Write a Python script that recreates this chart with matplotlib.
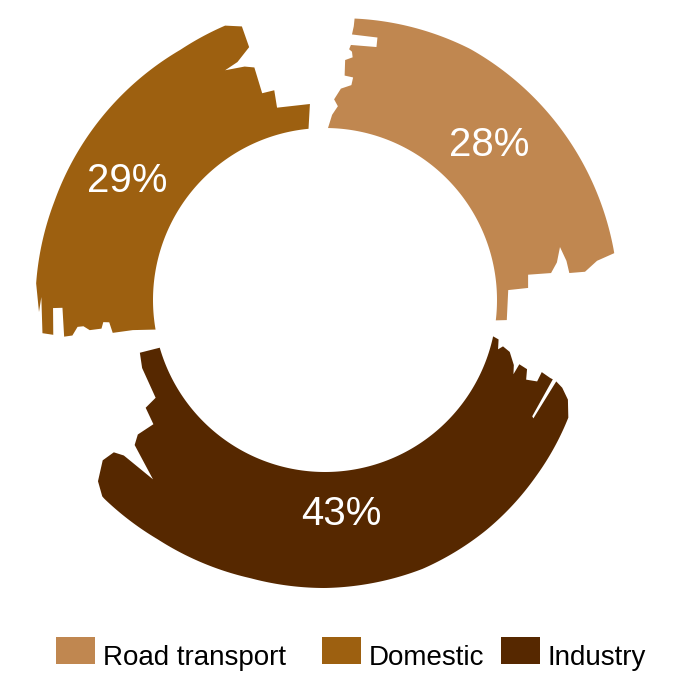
import numpy as np
import matplotlib
matplotlib.use("Agg")
import matplotlib.pyplot as plt
from matplotlib.patches import Polygon, Rectangle

# ---- data -------------------------------------------------------------
categories = ["Road transport", "Domestic", "Industry"]
shares = [28, 29, 43]
colors = ["#C08750", "#9D6010", "#562800"]
ring_order = ["Road transport", "Industry", "Domestic"]  # clockwise from the top
start_angle = 92.0

# ---- layout (pixel space) ---------------------------------------------
W, H = 685, 673
CX, CY = 325, 300
R_IN = 172
# hand-drawn outer rim: radius at a few angles (degrees, clockwise run from the top)
rim_angles = [-268, -260, -250, -240, -200, -175, -150, -138, -125, -105, -90, -70, -55,
              -40, -25, -12, -8, 10, 60, 84, 92]
rim_radii = [302, 300, 292, 289, 288, 290, 296, 297, 292, 288, 288, 286, 281,
             275, 270, 272, 293, 293, 290, 283, 283]

# label placement per segment: (angle nudge in degrees, radius)
label_place = {"Road transport": (1.8, 226), "Industry": (0.5, 215), "Domestic": (4.8, 231)}

# Brush-stroke ends: (radial fraction inner->outer, degrees the edge pulls back
# from the segment boundary)
brush = {
    ("Road transport", "start"): [(0, 3), (0.12, 4.2), (0.2, 5.8), (0.26, 4.6), (0.36, 6.3),
                                  (0.40, 9.0), (0.47, 9.2), (0.48, 7.0), (0.62, 6.8), (0.65, 8.5),
                                  (0.70, 8.2), (0.72, 7.5), (0.76, 7.8), (0.765, 13.5), (0.85, 13.3),
                                  (0.855, 7.8), (0.93, 8.0), (1.0, 8.0)],
    ("Road transport", "end"): [(0, 2.0), (0.09, 2.5), (0.095, 11.9), (0.26, 12.2), (0.27, 15.9),
                                (0.46, 15.6), (0.52, 18), (0.57, 21.5), (0.6, 18), (0.61, 15.1),
                                (0.74, 15.0), (0.85, 17), (1.0, 18)],
    ("Industry", "start"): [(0, 3.4), (0.06, 4), (0.08, 7.1), (0.12, 5.8), (0.2, 6.9), (0.28, 10.2),
                            (0.31, 12.7), (0.33, 9.5), (0.42, 10.1), (0.45, 12.8), (0.56, 12.2),
                            (0.57, 9.6), (0.67, 10.3), (0.70, 10.4), (0.66, 20.5), (0.68, 20.8),
                            (0.74, 10.6), (0.82, 11.5), (0.92, 13.5), (1.0, 17)],
    ("Industry", "end"): [(0, -0.3), (0.17, -0.5), (0.19, 4), (0.19, 13.6), (0.3, 14.6),
                          (0.32, 19.5), (0.47, 19.3), (0.54, 20.9), (0.62, 29.8), (0.66, 21.3),
                          (0.71, 19.4), (0.82, 19.4), (0.95, 22.2), (1.0, 25)],
    ("Domestic", "start"): [(0, 6.5), (0.19, 7.5), (0.36, 7.6), (0.38, 10.5), (0.43, 10.7),
                            (0.45, 9.1), (0.55, 9.1), (0.6, 10.2), (0.65, 10.2), (0.7, 8.4),
                            (0.77, 8.4), (0.77, 14.7), (0.85, 14.7), (0.86, 9.1), (0.95, 9.7),
                            (0.95, 17), (0.97, 14), (1.0, 19.7)],
    ("Domestic", "end"): [(0, 3.5), (0.19, 2.4), (0.21, 12), (0.35, 11.6), (0.36, 14.9),
                          (0.58, 14.9), (0.62, 17), (0.66, 21.5), (0.68, 18.2), (0.75, 14.7),
                          (0.93, 14.9), (1.0, 18)],
}

plt.rcParams["font.family"] = ["Liberation Sans", "DejaVu Sans"]

fig = plt.figure(figsize=(W / 100, H / 100), dpi=100)
ax = fig.add_axes([0, 0, 1, 1])
ax.set_xlim(0, W)
ax.set_ylim(H, 0)
ax.set_aspect("equal")
ax.axis("off")


def r_out(th):
    return np.interp(th, rim_angles, rim_radii)


def to_xy(r, th):
    t = np.radians(th)
    return CX + r * np.cos(t), CY - r * np.sin(t)


def edge(boundary, profile, sign):
    pts = []
    for u, d in profile:
        th = boundary + sign * d
        pts.append((R_IN + u * (r_out(th) - R_IN), th))
    return pts


def outer_arc(th0, th1):
    n = max(int(abs(th1 - th0) * 2), 2)
    return [(r_out(t), t) for t in np.linspace(th0, th1, n)]


def inner_arc(th0, th1):
    n = max(int(abs(th1 - th0) * 2), 2)
    return [(R_IN, t) for t in np.linspace(th0, th1, n)]


share_of = dict(zip(categories, shares))
color_of = dict(zip(categories, colors))

hi = start_angle
for name in ring_order:
    span = share_of[name] / sum(shares) * 360.0
    lo = hi - span
    head = edge(hi, brush[(name, "start")], -1)   # clockwise segment: body below hi
    tail = edge(lo, brush[(name, "end")], +1)     # body above lo
    ring = []
    ring += outer_arc(head[-1][1], tail[-1][1])
    ring += tail[::-1]
    ring += inner_arc(tail[0][1], head[0][1])
    ring += head
    xy = [to_xy(r, t) for r, t in ring]
    ax.add_patch(Polygon(xy, closed=True, facecolor=color_of[name], edgecolor="none"))

    nudge, lr = label_place[name]
    lx, ly = to_xy(lr, (hi + lo) / 2 + nudge)
    ax.text(lx, ly, f"{share_of[name]}%", color="white", fontsize=29,
            ha="center", va="center")
    hi = lo

# legend along the bottom
legend_x = [56, 322, 501]
for name, x0 in zip(categories, legend_x):
    ax.add_patch(Rectangle((x0, 637), 39, 27, facecolor=color_of[name], edgecolor="none"))
    ax.text(x0 + 47, 665, name, color="black", fontsize=20, ha="left", va="baseline")

fig.savefig("out.png", dpi=100)
